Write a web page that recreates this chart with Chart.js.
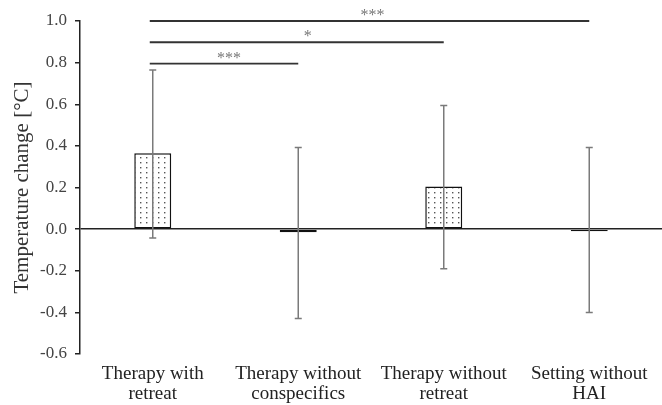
<!DOCTYPE html>
<html>
<head>
<meta charset="utf-8">
<script src="https://cdn.jsdelivr.net/npm/chart.js@4"></script>
<style>
  html, body { margin: 0; padding: 0; background: #fff; }
  #wrap { width: 662px; height: 405px; }
</style>
</head>
<body>
<div id="wrap"><canvas id="barChart"></canvas></div>
<script>
const groups = [['Therapy with', 'retreat'], ['Therapy without', 'conspecifics'], ['Therapy without', 'retreat'], ['Setting without', 'HAI']];
const means = [0.365, -0.015, 0.205, -0.01];
const errUpper = [0.765, 0.392, 0.594, 0.392];
const errLower = [-0.043, -0.43, -0.19, -0.40];
const yTicks = [-0.6, -0.4, -0.2, 0.0, 0.2, 0.4, 0.6, 0.8, 1.0];

// significance brackets: from group, to group, height, label
const sigFrom = [0, 0, 0];
const sigTo = [3, 2, 1];
const sigLevel = [1.0, 0.898, 0.795];
const sigText = ['***', '*', '***'];

// dotted fill like the original
function dotPattern() {
    const c = document.createElement('canvas');
    c.width = 6;
    c.height = 5;
    const g = c.getContext('2d');
    g.fillStyle = '#fff';
    g.fillRect(0, 0, 6, 5);
    g.fillStyle = '#555';
    g.fillRect(2, 2, 1.4, 1.4);
    return g.createPattern(c, 'repeat');
}

const extras = {
    id: 'extras',
    afterDatasetsDraw(chart) {
        const ctx = chart.ctx;
        const x = chart.scales.x;
        const y = chart.scales.y;
        ctx.save();

        // error bars
        ctx.strokeStyle = '#7a7a7a';
        ctx.lineWidth = 1.5;
        means.forEach((m, i) => {
            const px = x.getPixelForValue(i);
            const top = y.getPixelForValue(errUpper[i]);
            const bot = y.getPixelForValue(errLower[i]);
            ctx.beginPath();
            ctx.moveTo(px, top); ctx.lineTo(px, bot);
            ctx.moveTo(px - 3.5, top); ctx.lineTo(px + 3.5, top);
            ctx.moveTo(px - 3.5, bot); ctx.lineTo(px + 3.5, bot);
            ctx.stroke();
        });

        // significance lines
        ctx.strokeStyle = '#333';
        ctx.lineWidth = 1.8;
        ctx.fillStyle = '#777';
        ctx.font = '16px "Liberation Serif"';
        ctx.textAlign = 'center';
        ctx.textBaseline = 'alphabetic';
        const shift = [3, 11, 5];
        sigFrom.forEach((f, i) => {
            const x1 = x.getPixelForValue(f) - 3;
            const x2 = x.getPixelForValue(sigTo[i]);
            const py = y.getPixelForValue(sigLevel[i]);
            ctx.beginPath();
            ctx.moveTo(x1, py); ctx.lineTo(x2, py);
            ctx.stroke();
            ctx.fillText(sigText[i], (x1 + x2) / 2 + shift[i], py - 1);
        });
        ctx.restore();
    }
};

new Chart(document.getElementById('barChart'), {
    type: 'bar',
    data: {
        labels: groups,
        datasets: [{
            data: means,
            backgroundColor: dotPattern(),
            borderColor: '#111',
            borderWidth: 1.5,
            borderSkipped: false,
            barPercentage: 0.254,
            categoryPercentage: 1.0
        }]
    },
    options: {
        responsive: true,
        maintainAspectRatio: false,
        animation: false,
        devicePixelRatio: 1,
        layout: { padding: { top: 21, right: 0, bottom: 0, left: 0 } },
        plugins: { legend: { display: false }, tooltip: { enabled: false } },
        scales: {
            x: {
                afterFit: (s) => { s.height = 51; },
                grid: { display: false },
                border: { display: false },
                ticks: {
                    color: '#222',
                    font: { family: 'Liberation Serif', size: 19, lineHeight: 1.05 },
                    padding: 2,
                    maxRotation: 0,
                    autoSkip: false
                }
            },
            y: {
                min: -0.6,
                max: 1.0,
                afterBuildTicks: (s) => { s.ticks = yTicks.map(v => ({ value: v })); },
                afterFit: (s) => { s.width = 80; },
                border: { display: true, color: '#222', width: 1.5 },
                grid: {
                    color: (c) => c.tick && c.tick.value === 0 ? '#222' : 'rgba(0,0,0,0)',
                    lineWidth: 1.5,
                    tickColor: '#222',
                    tickLength: 5,
                    drawTicks: true
                },
                ticks: {
                    color: '#444',
                    font: { family: 'Liberation Serif', size: 17 },
                    padding: 8,
                    callback: (v) => Number(v).toFixed(1)
                },
                title: {
                    display: true,
                    text: 'Temperature change [°C]',
                    color: '#333',
                    font: { family: 'Liberation Serif', size: 21 },
                    padding: { top: 10, bottom: 0 }
                }
            }
        }
    },
    plugins: [extras]
});
</script>
</body>
</html>
